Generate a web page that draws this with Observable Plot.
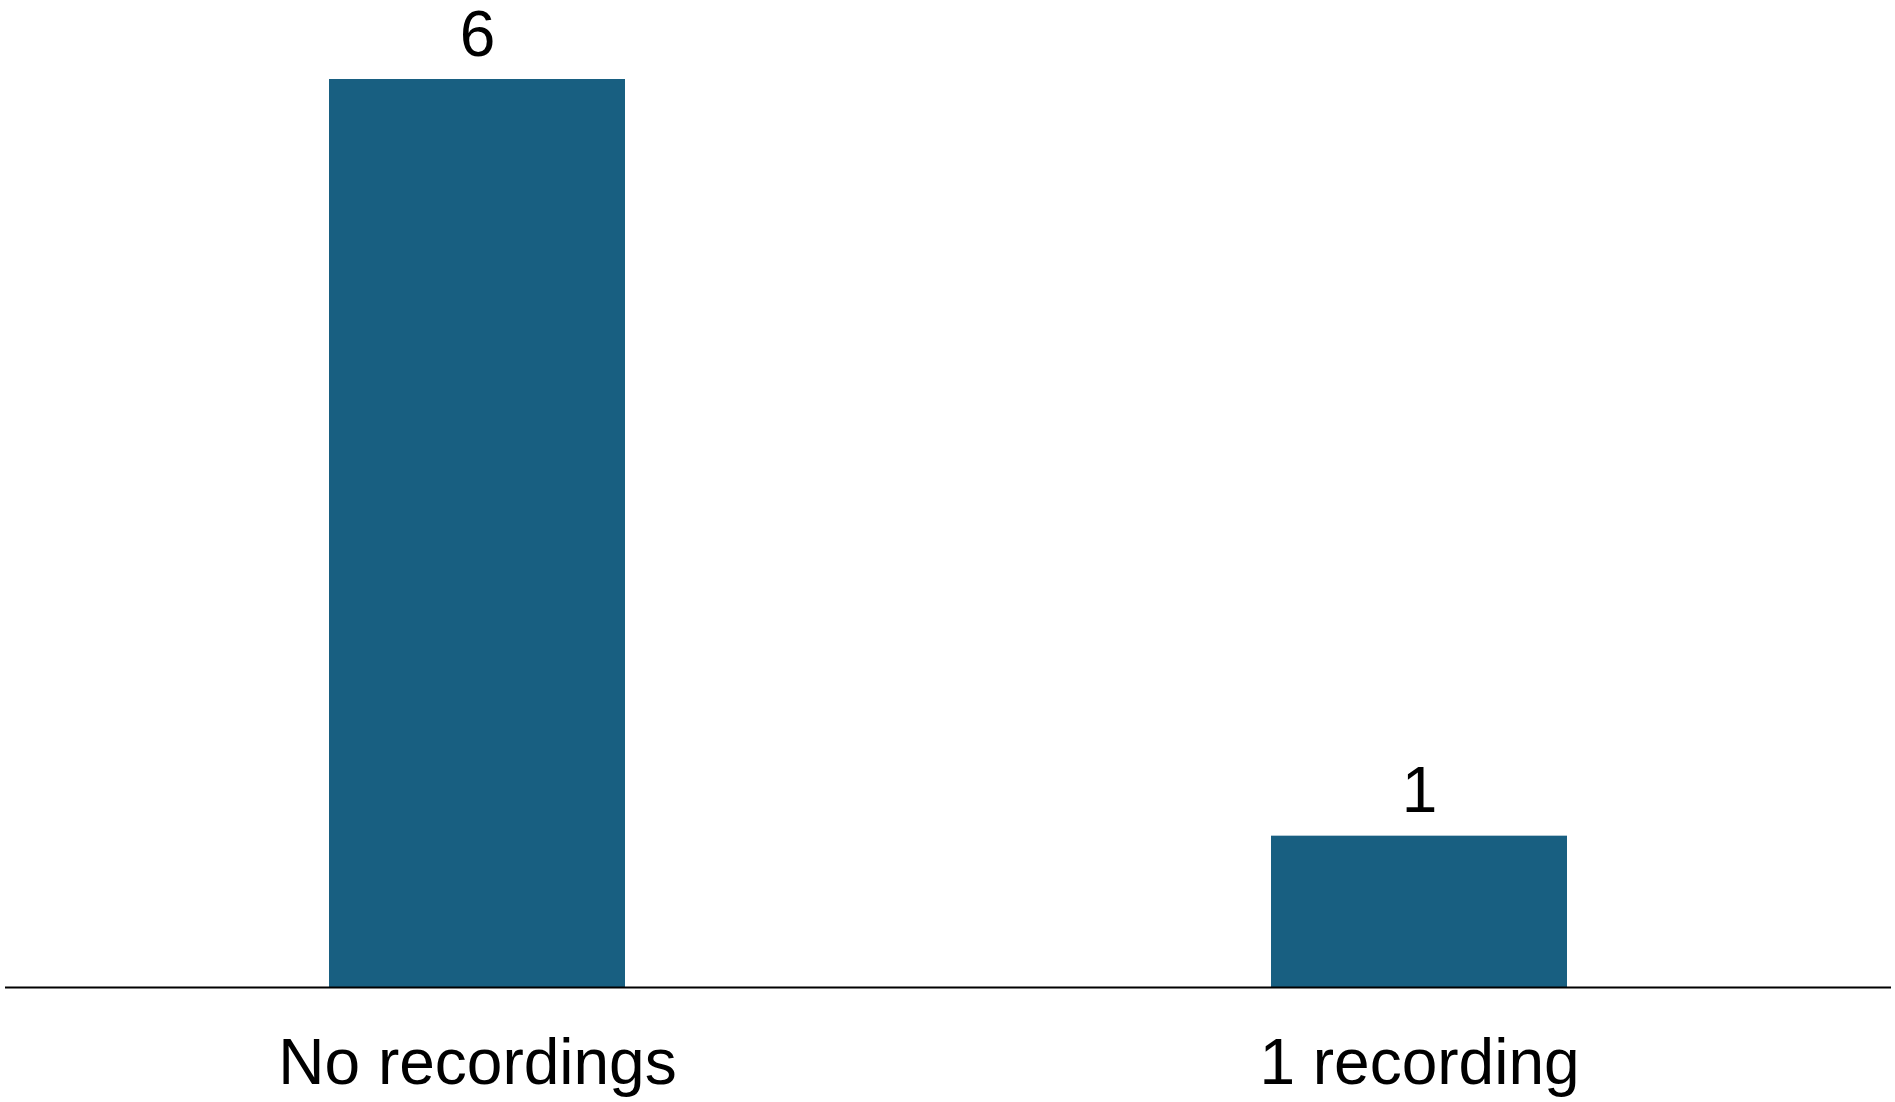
<!DOCTYPE html>
<html>
<head>
<meta charset="utf-8">
<script src="https://cdn.jsdelivr.net/npm/d3@7"></script>
<script src="https://cdn.jsdelivr.net/npm/@observablehq/plot@0.6"></script>
<style>
  html, body { margin: 0; padding: 0; background: #ffffff; }
  #chart svg { display: block; }
</style>
</head>
<body>
<div id="chart"></div>
<script>
// Number of recordings per group
const categories = ["No recordings", "1 recording"];
const counts = [6, 1];

const data = categories.map((c, i) => ({category: c, count: counts[i]}));

const barColor = "#185f81";
const font = "'Liberation Sans', Arial, sans-serif";

const chart = Plot.plot({
  width: 1895,
  height: 1102,
  marginTop: 79,
  marginBottom: 115,
  marginLeft: 5,
  marginRight: 4,
  style: {fontFamily: font, background: "#ffffff", color: "#000000"},
  x: {domain: categories, paddingInner: 0.686, paddingOuter: 0.3436, label: null},
  y: {domain: [0, 6], axis: null},
  marks: [
    Plot.barY(data, {x: "category", y: "count", fill: barColor}),
    Plot.ruleY([0], {stroke: "#000000", strokeWidth: 2}),
    Plot.text(data, {
      x: "category", y: "count", text: d => String(d.count),
      lineAnchor: "bottom", dy: -24, fontSize: 64, fill: "#000000"
    }),
    Plot.axisX({tickSize: 0, tickPadding: 51, fontSize: 64, label: null, fill: "#000000"})
  ]
});

document.getElementById("chart").appendChild(chart);
</script>
</body>
</html>
